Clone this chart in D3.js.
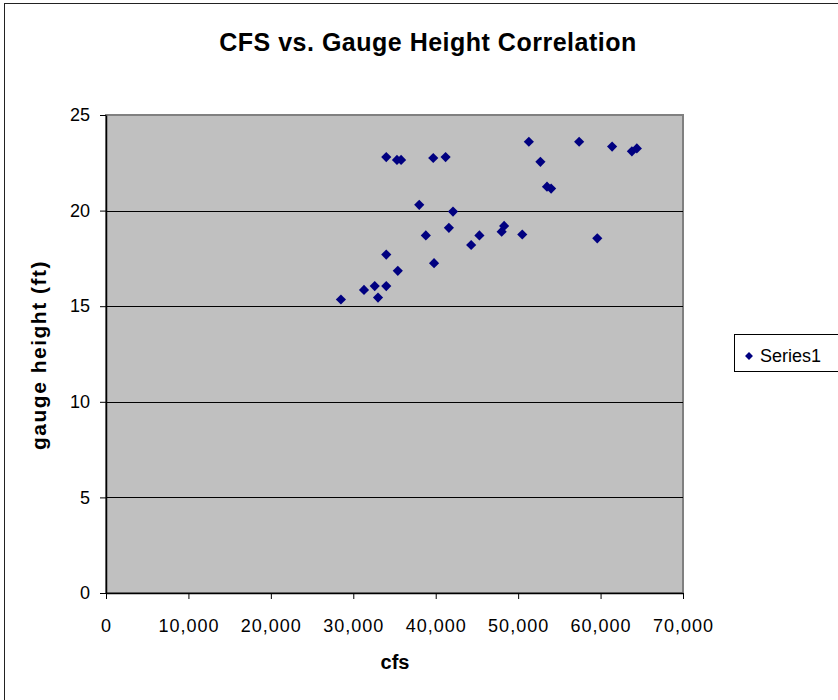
<!DOCTYPE html>
<html>
<head>
<meta charset="utf-8">
<script src="https://d3js.org/d3.v7.min.js"></script>
<style>
	body { margin: 0; background: #fff; }
	svg { display: block; font-family: "Liberation Sans", Arial, sans-serif; }
</style>
</head>
<body>
<svg width="838" height="700"></svg>
<script>
// Data
var cfs = [28500, 31300, 32600, 33000, 34000, 34000, 35400, 34000, 35300, 35800,
	38000, 38800, 39700, 39800, 41200, 41600, 42100, 44300, 45300, 48300,
	48000, 50500, 59600, 51300, 52700, 53500, 54000, 57400, 61400, 63800, 64400];
var gauge = [15.35, 15.85, 16.05, 15.45, 16.05, 17.7, 16.85, 22.8, 22.65, 22.65,
	20.3, 18.7, 22.75, 17.25, 22.8, 19.1, 19.95, 18.2, 18.7, 19.2,
	18.9, 18.75, 18.55, 23.6, 22.55, 21.25, 21.15, 23.6, 23.35, 23.1, 23.25];
var xTicks = [0, 10000, 20000, 30000, 40000, 50000, 60000, 70000];
var yTicks = [0, 5, 10, 15, 20, 25];
var seriesName = 'Series1';

var plot_left = 106, plot_right = 683, plot_top = 115, plot_bottom = 593;
var marker_color = '#000080';
var font = '"Liberation Sans", Arial, sans-serif';

var svg = d3.select('svg');

// Chart frame
svg.append('rect')
	.attr('x', 4.5).attr('y', 3.5)
	.attr('width', 860).attr('height', 720)
	.attr('fill', '#fff')
	.attr('stroke', '#222').attr('stroke-width', 1);

var x = d3.scaleLinear().domain([0, 70000]).range([plot_left, plot_right]);
var y = d3.scaleLinear().domain([0, 25]).range([plot_bottom, plot_top]);

// Plot area
svg.append('rect')
	.attr('x', plot_left).attr('y', plot_top)
	.attr('width', plot_right - plot_left).attr('height', plot_bottom - plot_top)
	.attr('fill', '#c0c0c0')
	.attr('stroke', '#808080').attr('stroke-width', 2);

// Gridlines
svg.append('g').selectAll('line')
	.data(yTicks.filter(d => d > 0 && d < 25))
	.enter().append('line')
	.attr('x1', plot_left).attr('x2', plot_right)
	.attr('y1', d => Math.round(y(d)) + 0.5).attr('y2', d => Math.round(y(d)) + 0.5)
	.attr('stroke', '#000').attr('stroke-width', 1);

// Axes
var xAxis = svg.append('g')
	.attr('transform', 'translate(0,' + plot_bottom + ')')
	.call(d3.axisBottom(x).tickValues(xTicks).tickSize(6).tickSizeOuter(0).tickPadding(20)
		.tickFormat(d3.format(',')));
var yAxis = svg.append('g')
	.attr('transform', 'translate(' + plot_left + ',0)')
	.call(d3.axisLeft(y).tickValues(yTicks).tickSize(6).tickSizeOuter(0).tickPadding(10));

[xAxis, yAxis].forEach(function(a)
{
	a.select('.domain').attr('stroke', '#000').attr('stroke-width', 1.5);
	a.selectAll('.tick line').attr('stroke', '#000');
	a.selectAll('text')
		.attr('font-size', 18)
		.attr('font-family', font)
		.attr('fill', '#000');
});
xAxis.selectAll('text').attr('letter-spacing', 1);

// Points
var diamond = d3.symbol().type(d3.symbolDiamond2).size(66);
svg.append('g').selectAll('path')
	.data(cfs.map((c, i) => ({ x: c, y: gauge[i] })))
	.enter().append('path')
	.attr('d', diamond)
	.attr('transform', d => 'translate(' + x(d.x) + ',' + y(d.y) + ')')
	.attr('fill', marker_color);

// Titles
svg.append('text')
	.attr('x', 428).attr('y', 51)
	.attr('text-anchor', 'middle')
	.attr('font-size', 25).attr('font-weight', 'bold')
	.attr('letter-spacing', 0.5)
	.text('CFS vs. Gauge Height Correlation');

svg.append('text')
	.attr('x', 395).attr('y', 669)
	.attr('text-anchor', 'middle')
	.attr('font-size', 20).attr('font-weight', 'bold')
	.text('cfs');

svg.append('text')
	.attr('transform', 'translate(46,355) rotate(-90)')
	.attr('text-anchor', 'middle')
	.attr('font-size', 21).attr('font-weight', 'bold')
	.attr('letter-spacing', 1.5)
	.text('gauge height (ft)');

// Legend
var legend = svg.append('g').attr('transform', 'translate(734,334)');
legend.append('rect')
	.attr('x', 0.5).attr('y', 0.5)
	.attr('width', 120).attr('height', 37)
	.attr('fill', '#fff').attr('stroke', '#000');
legend.append('path')
	.attr('d', d3.symbol().type(d3.symbolDiamond2).size(40))
	.attr('transform', 'translate(15,22)')
	.attr('fill', marker_color);
legend.append('text')
	.attr('x', 26).attr('y', 28)
	.attr('font-size', 18)
	.text(seriesName);
</script>
</body>
</html>
